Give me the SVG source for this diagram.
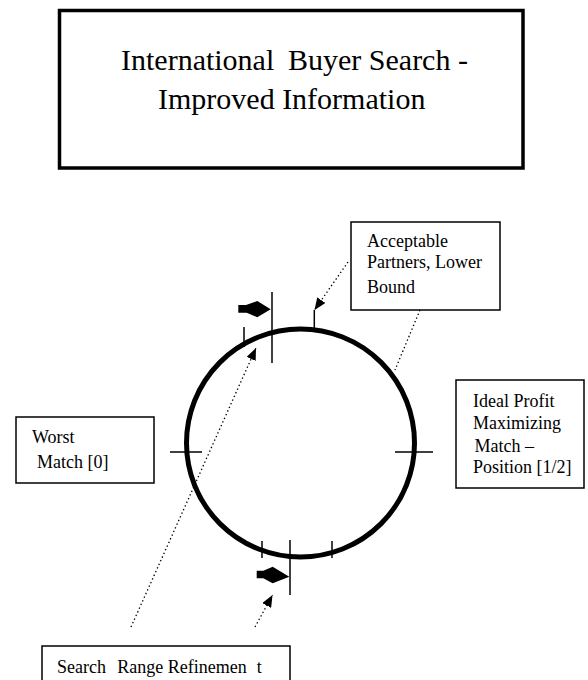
<svg xmlns="http://www.w3.org/2000/svg" width="588" height="680" viewBox="0 0 588 680">
<style>
text{font-family:"Liberation Serif","Times New Roman",serif;fill:#000}
.t{font-size:30px}
.l{font-size:18px}
.box{fill:#fff;stroke:#000;stroke-width:1.5}
.tbox{fill:#fff;stroke:#000;stroke-width:3.5}
.tick{stroke:#000;stroke-width:1.5;fill:none}
.ring{stroke:#000;stroke-width:5;fill:none}
.dot{stroke:#000;stroke-width:1.3;stroke-dasharray:1.4 2.6;fill:none}
.blk{fill:#000;stroke:none}
</style>
<defs>
<marker id="ah" viewBox="0 0 12 10" refX="12" refY="5" markerWidth="12" markerHeight="10" orient="auto" markerUnits="userSpaceOnUse"><path d="M0,0 L12,5 L0,10 Z" fill="#000"/></marker>
</defs>
<rect width="588" height="680" fill="#fff"/>
<g id="title">
<rect class="tbox" x="59.5" y="10.5" width="463.5" height="157.5"/>
<text class="t" y="70"><tspan x="121">International</tspan><tspan x="288">Buyer Search -</tspan></text>
<text class="t" x="158" y="109">Improved Information</text>
</g>
<g id="acceptable">
<rect class="box" x="351" y="222" width="149" height="88"/>
<text class="l" x="367" y="247">Acceptable</text>
<text class="l" x="367" y="268">Partners, Lower</text>
<text class="l" x="367" y="293">Bound</text>
</g>
<g id="ideal">
<rect class="box" x="456" y="380" width="128" height="108"/>
<text class="l" x="473" y="407">Ideal Profit</text>
<text class="l" x="473" y="429">Maximizing</text>
<text class="l" x="474.5" y="452">Match –</text>
<text class="l" x="473" y="473">Position [1/2]</text>
</g>
<g id="worst">
<rect class="box" x="16" y="417" width="138" height="66"/>
<text class="l" x="32" y="443">Worst</text>
<text class="l" x="37" y="468">Match [0]</text>
</g>
<g id="search">
<rect class="box" x="42" y="646" width="248" height="44"/>
<text class="l" y="673"><tspan x="57">Search</tspan><tspan x="117.3">Range Refinemen</tspan><tspan x="256.7">t</tspan></text>
</g>
<g id="wheel">
<circle class="ring" cx="300.5" cy="443" r="114"/>
<line class="tick" x1="272" y1="292" x2="272" y2="363"/>
<line class="tick" x1="244" y1="327" x2="244" y2="347"/>
<line class="tick" x1="170" y1="452" x2="202" y2="452"/>
<line class="tick" x1="395" y1="452" x2="433" y2="452"/>
<line class="tick" x1="290" y1="540" x2="290" y2="595"/>
<line class="tick" x1="262" y1="541" x2="262" y2="558"/>
<line class="tick" x1="332" y1="541" x2="332" y2="558"/>
<path class="blk" d="M238.3,305 L246,305 L257.3,301 L270.7,309.2 L257.3,317.3 L246.7,312.7 L238.3,312.7 Z"/>
<path class="blk" d="M256.7,570.7 L263.3,570.7 L272.7,566.7 L289.3,576.7 L272.7,583.3 L263.3,578.3 L256.7,578.3 Z"/>
</g>
<g id="connectors">
<path class="dot" d="M348,262 L314.5,310" marker-end="url(#ah)"/>
<line class="tick" x1="314.3" y1="310" x2="314.3" y2="329"/>
<path class="dot" d="M131,627 L256,348" marker-end="url(#ah)"/>
<path class="dot" d="M420,310 L395,370"/>
<path class="dot" d="M255,627 L272.5,595" marker-end="url(#ah)"/>
</g>
</svg>
